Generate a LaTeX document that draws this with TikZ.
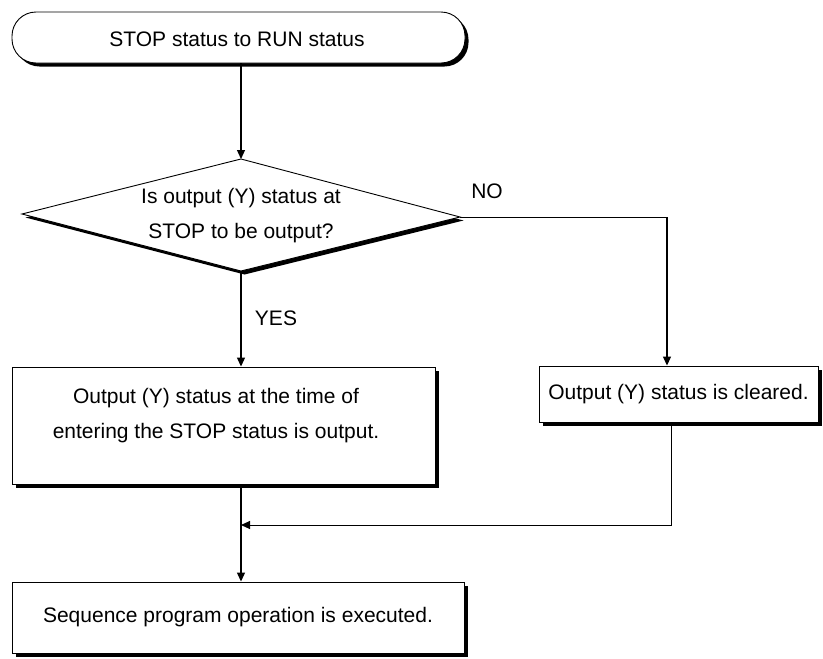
\documentclass[tikz,border=0pt]{standalone}
\usepackage{fontspec}
\setmainfont{Liberation Sans}
\usetikzlibrary{shapes.geometric,shadows,arrows.meta}
\begin{document}
\begin{tikzpicture}[x=1pt,y=-1pt,
  every node/.style={font=\fontsize{21}{35}\selectfont},
  shad/.style={draw=black,line width=0.9pt,fill=white,
     drop shadow={shadow xshift=3.5pt,shadow yshift=-3.5pt,fill=black,opacity=1}},
  boxstyle/.style={shad,rectangle,inner sep=0pt,align=center},
  arr/.style={line width=1.2pt,-{Triangle[length=9pt,width=8pt]}},
  ln/.style={line width=1pt}]
\useasboundingbox (0,0) rectangle (823,659);
\node[boxstyle,rounded corners=24pt,minimum width=453pt,minimum height=51pt] (term) at (238.5,37.5) {};
\node (termtext) at (237,39.5) {STOP status to RUN status};
% decision diamond
\coordinate (dt) at (241,159);
\coordinate (dr) at (460,217);
\coordinate (db) at (241,271);
\coordinate (dl) at (22,214);
\fill[black] (244.5,162.5) -- (463.5,220.5) -- (244.5,274.5) -- (25.5,217.5) -- cycle;
\draw[line width=0.9pt,fill=white] (dt) -- (dr) -- (db) -- (dl) -- cycle;
\node[align=center,inner sep=0pt] (dia) at (241,215.5) {Is output (Y) status at\\STOP to be output?};
\node[boxstyle,minimum width=423pt,minimum height=117pt] (left) at (223.5,425.5) {};
\node[align=center,inner sep=0pt] (lefttext) at (216,415.5) {Output (Y) status at the time of\\entering the STOP status is output.};
\node[boxstyle,minimum width=279pt,minimum height=56pt] (right) at (678.5,394) {Output (Y) status is cleared.};
\node[boxstyle,minimum width=452pt,minimum height=71pt] (bot) at (238,617.5) {Sequence program operation is executed.};
\node (no) at (487,191) {NO};
\node (yes) at (276,318) {YES};
\coordinate (nc) at (667,217);
\coordinate (rc) at (671,0);
\coordinate (merge) at (241,525);
\draw[arr] (term.south -| dt) -- (dt);
\draw[arr] (db) -- (db |- left.north);
\draw[ln] (dr) -- (nc);
\draw[arr] (nc) -- (nc |- right.north);
\draw[arr,line width=1pt] (right.south -| rc) |- (merge);
\draw[arr] (left.south -| db) -- (bot.north -| db);
\end{tikzpicture}
\end{document}
